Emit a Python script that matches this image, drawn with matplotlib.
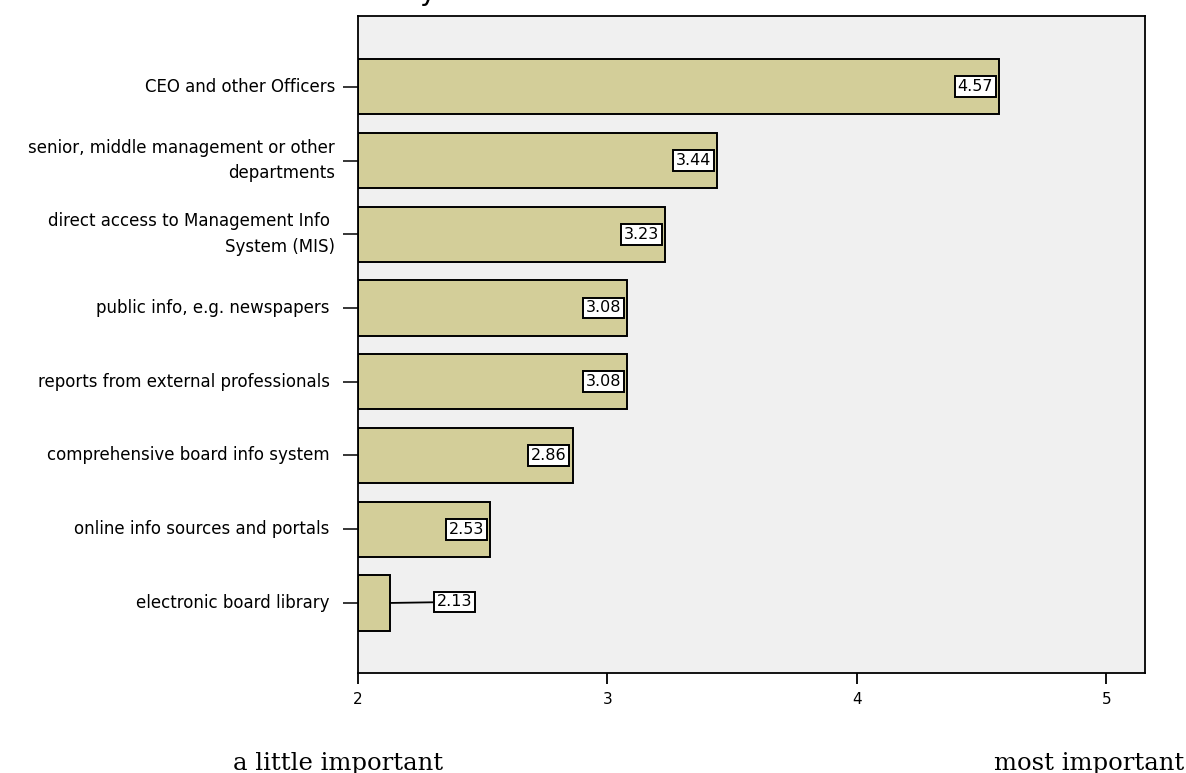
import matplotlib
matplotlib.use("Agg")
import matplotlib.pyplot as plt

# Mean importance ratings per information source
categories = [
    "CEO and other Officers",
    "senior, middle management or other\ndepartments",
    "direct access to Management Info \nSystem (MIS)",
    "public info, e.g. newspapers ",
    "reports from external professionals ",
    "comprehensive board info system ",
    "online info sources and portals ",
    "electronic board library ",
]
values = [4.57, 3.44, 3.23, 3.08, 3.08, 2.86, 2.53, 2.13]
x_ticks = [2, 3, 4, 5]
scale_low = "a little important"
scale_high = "most important"
title_text = "you board info"

W, H, DPI = 1186, 773, 100
fig = plt.figure(figsize=(W / DPI, H / DPI), dpi=DPI)
fig.patch.set_facecolor("white")

ax = fig.add_axes([358 / W, 1 - 673 / H, (1145 - 358) / W, (673 - 16) / H])
ax.set_facecolor("#F0F0F0")

bar_color = "#D3CE99"
positions = list(range(len(categories)))
ax.barh(positions, [v - 2 for v in values], left=2, height=0.75,
        color=bar_color, edgecolor="black", linewidth=1.4, zorder=2)

ax.set_xlim(2, 5.155)
ax.set_ylim(7.95, -0.96)

ax.set_yticks(positions)
ax.set_yticklabels(categories, fontsize=12, family="DejaVu Sans",
                   linespacing=1.55)
for lbl in ax.get_yticklabels():
    lbl.set_verticalalignment("center")
ax.set_xticks(x_ticks)
ax.set_xticklabels([str(t) for t in x_ticks], fontsize=11,
                   family=["Liberation Sans Narrow", "DejaVu Sans"])

ax.tick_params(axis="y", length=10.8, width=1.1, pad=5.8, color="black")
ax.tick_params(axis="x", length=8, width=1.3, pad=5.5, color="black")
for s in ax.spines.values():
    s.set_linewidth(1.3)
    s.set_color("black")

box = dict(boxstyle="square,pad=0.18", fc="white", ec="black", lw=1.4)
for pos, v in zip(positions, values):
    label = f"{v:.2f}"
    if v - 2 < 0.3:
        ax.annotate(label, xy=(v, pos), xytext=(46, 1),
                    textcoords="offset pixels", ha="left", va="center",
                    fontsize=11.5, bbox=box, zorder=4,
                    arrowprops=dict(arrowstyle="-", lw=1.3, color="black",
                                    shrinkA=0, shrinkB=0))
    else:
        ax.annotate(label, xy=(v, pos), xytext=(-6, 0),
                    textcoords="offset pixels", ha="right", va="center",
                    fontsize=11.5, bbox=box, zorder=4)

# heading sits mostly above the top edge of the figure
fig.text(420 / W, 1.0, title_text, fontsize=20, va="baseline",
         ha="left", family="DejaVu Sans")

fig.text(233 / W, 1 - 770 / H, scale_low, fontsize=17.5,
         family="DejaVu Serif", ha="left", va="baseline")
fig.text(1184 / W, 1 - 770 / H, scale_high, fontsize=17.5,
         family="DejaVu Serif", ha="right", va="baseline")

fig.savefig("out.png", dpi=DPI)
